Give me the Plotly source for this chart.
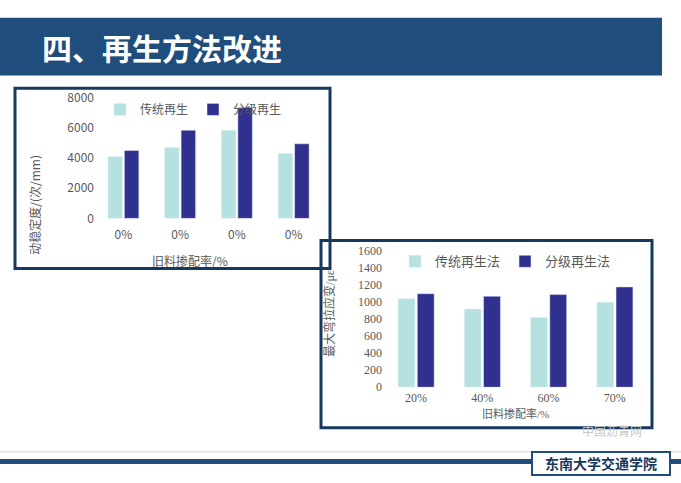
import plotly.graph_objects as go

W, H = 681, 483

# top-left chart: dynamic stability
cats_1 = ["0%", "0%", "0%", "0%"]
trad_1 = [4100, 4700, 5850, 4300]
grad_1 = [4500, 5850, 7350, 4950]

# bottom-right chart: max flexural tensile strain
cats_2 = ["20%", "40%", "60%", "70%"]
trad_2 = [1040, 920, 820, 1000]
grad_2 = [1100, 1070, 1090, 1180]

LIGHT = "#b5e2e0"
DARK = "#30318f"
NAVY = "#17385e"
GREY = "#595959"
SANS = "Noto Sans CJK SC, Liberation Sans, sans-serif"
SERIF = "Liberation Serif, Noto Sans CJK SC, serif"


def px(x):
    return x / W


def py(y):
    return 1 - y / H


fig = go.Figure()
pos = list(range(4))
fig.add_bar(x=pos, y=trad_1, name="传统再生", marker_color=LIGHT, xaxis="x", yaxis="y", legend="legend")
fig.add_bar(x=pos, y=grad_1, name="分级再生", marker_color=DARK, xaxis="x", yaxis="y", legend="legend")
fig.add_bar(x=pos, y=trad_2, name="传统再生法", marker_color=LIGHT, xaxis="x2", yaxis="y2", legend="legend2")
fig.add_bar(x=pos, y=grad_2, name="分级再生法", marker_color=DARK, xaxis="x2", yaxis="y2", legend="legend2")

shapes = [
    dict(type="rect", xref="paper", yref="paper", x0=0, x1=px(662), y0=py(68), y1=py(8),
         fillcolor="#1f4d7c", line_width=0, layer="below"),
    dict(type="rect", xref="paper", yref="paper", x0=px(15), x1=px(330), y0=py(268), y1=py(81),
         line=dict(color=NAVY, width=3)),
    dict(type="rect", xref="paper", yref="paper", x0=px(321), x1=px(652), y0=py(433), y1=py(239),
         line=dict(color=NAVY, width=3)),
    dict(type="line", xref="paper", yref="paper", x0=0, x1=1, y0=py(468), y1=py(468),
         line=dict(color="#1f4d7c", width=5), layer="below"),
    dict(type="line", xref="paper", yref="paper", x0=0, x1=1, y0=py(458), y1=py(458),
         line=dict(color="#d0d0d0", width=1), layer="below"),
    dict(type="rect", xref="paper", yref="paper", x0=px(532), x1=px(670), y0=py(482), y1=py(458),
         fillcolor="white", line=dict(color="#1f4d7c", width=2), layer="below"),
]

annotations = [
    dict(text="<b>四、再生方法改进</b>", x=px(40), y=py(38), xref="paper", yref="paper",
         xanchor="left", yanchor="middle", showarrow=False,
         font=dict(family=SANS, size=30, color="white")),
    dict(text="旧料掺配率/%", x=px(190), y=py(260), xref="paper", yref="paper",
         xanchor="center", showarrow=False, font=dict(family=SANS, size=12, color=GREY)),
    dict(text="动稳定度/(次/mm)", x=px(35), y=py(148), xref="paper", yref="paper", textangle=-90,
         xanchor="center", showarrow=False, font=dict(family=SANS, size=12, color=GREY)),
    dict(text="旧料掺配率/%", x=px(515), y=py(427), xref="paper", yref="paper",
         xanchor="center", showarrow=False, font=dict(family=SERIF, size=11, color=GREY)),
    dict(text="最大弯拉应变/με", x=px(330), y=py(315), xref="paper", yref="paper", textangle=-90,
         xanchor="center", showarrow=False, font=dict(family=SERIF, size=12, color=GREY)),
    dict(text="<b>东南大学交通学院</b>", x=px(601), y=py(470), xref="paper", yref="paper",
         xanchor="center", yanchor="middle", showarrow=False,
         font=dict(family=SANS, size=14, color=NAVY)),
    dict(text="中国沥青网", x=px(612), y=py(447), xref="paper", yref="paper",
         xanchor="center", showarrow=False, font=dict(family=SANS, size=12, color="#c8c8c8")),
]

axis_common = dict(showgrid=False, zeroline=False, showline=False, ticks="")

fig.update_layout(
    width=W, height=H, margin=dict(l=0, r=0, t=0, b=0),
    paper_bgcolor="white", plot_bgcolor="rgba(0,0,0,0)",
    barmode="group", bargap=0.42, bargroupgap=0.12,
    shapes=shapes, annotations=annotations,
    xaxis=dict(domain=[px(95), px(322)], anchor="y", tickvals=pos, ticktext=cats_1,
               range=[-0.5, 3.5], ticklabelstandoff=8,
               tickfont=dict(family=SANS, size=12, color=GREY), **axis_common),
    yaxis=dict(domain=[py(216), py(91)], anchor="x", range=[0, 8000], dtick=2000,
               tickfont=dict(family=SANS, size=12, color=GREY), **axis_common),
    xaxis2=dict(domain=[px(383), px(648)], anchor="y2", tickvals=pos, ticktext=cats_2,
                range=[-0.5, 3.5], ticklabelstandoff=2,
                tickfont=dict(family=SERIF, size=12, color=GREY), **axis_common),
    yaxis2=dict(domain=[py(391), py(250)], anchor="x2", range=[0, 1600], dtick=200,
                tickfont=dict(family=SERIF, size=12, color=GREY), **axis_common),
    legend=dict(orientation="h", x=px(100), y=py(88), xanchor="left", yanchor="top",
                bgcolor="rgba(0,0,0,0)", font=dict(family=SANS, size=12, color=GREY),
                itemwidth=30),
    legend2=dict(orientation="h", x=px(395), y=py(245), xanchor="left", yanchor="top",
                 bgcolor="rgba(0,0,0,0)", font=dict(family=SERIF, size=13, color=GREY),
                 itemwidth=30),
)

fig.write_html("out.html", config={"displayModeBar": False},
               post_script="document.body.style.margin='0';")
